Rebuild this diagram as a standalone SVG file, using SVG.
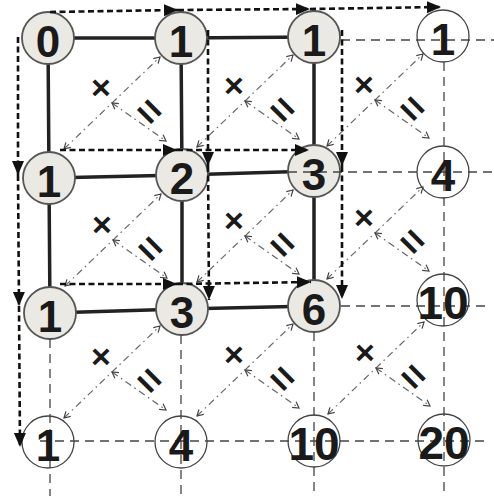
<svg xmlns="http://www.w3.org/2000/svg" width="494" height="496" viewBox="0 0 494 496">
<style>
.solid{stroke:#222;stroke-width:3.5;fill:none;stroke-linecap:butt}
.grid{stroke:#444;stroke-width:1.3;fill:none;stroke-dasharray:9 6}
.path{stroke:#111;stroke-width:2.6;fill:none;stroke-dasharray:6 3.5;marker-end:url(#head)}
.dd{stroke:#666;stroke-width:1.2;fill:none;stroke-dasharray:7 4 1.5 4;marker-start:url(#tick);marker-end:url(#tick)}
.gray{fill:#ebe9e4;stroke:#555;stroke-width:1.8}
.white{fill:none;stroke:#444;stroke-width:1.3}
.num{font-family:"Liberation Sans",Arial,sans-serif;font-weight:bold;font-size:44px;fill:#1a1a1a;text-anchor:middle}
.big{font-size:46px}
.sym{font-family:"Liberation Sans",Arial,sans-serif;font-weight:bold;fill:#1a1a1a;text-anchor:middle}
</style>
<defs>
<marker id="head" markerUnits="userSpaceOnUse" markerWidth="16" markerHeight="14" refX="14" refY="6" orient="auto">
<path d="M0,0 L14,6 L0,12 z" fill="#111"/>
</marker>
<marker id="tick" markerUnits="userSpaceOnUse" markerWidth="9" markerHeight="9" refX="7" refY="4" orient="auto-start-reverse">
<path d="M1,0.5 L7,4 L1,7.5" fill="none" stroke="#444" stroke-width="1.2"/>
</marker>
</defs>
<rect width="494" height="496" fill="#fff"/>

<g id="connectors">
<polyline class="solid" points="48,38 181,38 314,37"/>
<polyline class="solid" points="49,178 182,175 314,171"/>
<polyline class="solid" points="50,313 182,309 314,306"/>
<polyline class="solid" points="48,38 49,178 50,313"/>
<polyline class="solid" points="181,38 182,175 182,309"/>
<polyline class="solid" points="314,37 314,171 314,306"/>
</g>

<g id="node-0-0"><circle class="gray" cx="48" cy="38" r="26"/></g>
<g id="node-0-1"><circle class="gray" cx="181" cy="38" r="26"/></g>
<g id="node-0-2"><circle class="gray" cx="314" cy="37" r="26"/></g>
<g id="node-1-0"><circle class="gray" cx="49" cy="178" r="26"/></g>
<g id="node-1-1"><circle class="gray" cx="182" cy="175" r="26"/></g>
<g id="node-1-2"><circle class="gray" cx="314" cy="171" r="26"/></g>
<g id="node-2-0"><circle class="gray" cx="50" cy="313" r="26"/></g>
<g id="node-2-1"><circle class="gray" cx="182" cy="309" r="26"/></g>
<g id="node-2-2"><circle class="gray" cx="314" cy="306" r="26"/></g>

<g id="grid-lines">
<line class="grid" x1="341" y1="40" x2="494" y2="40"/>
<line class="grid" x1="288" y1="172" x2="494" y2="172"/>
<line class="grid" x1="341" y1="306" x2="486" y2="306"/>
<line class="grid" x1="40" y1="441" x2="486" y2="441"/>
<line class="grid" x1="50" y1="339" x2="50" y2="496"/>
<line class="grid" x1="181" y1="335" x2="181" y2="496"/>
<line class="grid" x1="314" y1="332" x2="314" y2="496"/>
<line class="grid" x1="444" y1="62" x2="444" y2="494"/>
</g>

<g id="node-0-3"><circle class="white" cx="443" cy="36" r="26"/></g>
<g id="node-1-3"><circle class="white" cx="443" cy="172" r="26"/></g>
<g id="node-2-3"><circle class="white" cx="443" cy="300" r="26"/></g>
<g id="node-3-0"><circle class="white" cx="48" cy="442" r="26"/></g>
<g id="node-3-1"><circle class="white" cx="181" cy="442" r="26"/></g>
<g id="node-3-2"><circle class="white" cx="314" cy="441" r="26"/></g>
<g id="node-3-3"><circle class="white" cx="444" cy="440" r="26"/></g>

<g id="diagonals">
<line class="dd" x1="64" y1="149" x2="160" y2="57"/><line class="dd" x1="112" y1="103" x2="166" y2="141"/>
<line class="dd" x1="197" y1="147" x2="293" y2="55"/><line class="dd" x1="245" y1="101" x2="299" y2="139"/>
<line class="dd" x1="327" y1="146" x2="423" y2="54"/><line class="dd" x1="375" y1="100" x2="429" y2="138"/>
<line class="dd" x1="65" y1="286" x2="161" y2="194"/><line class="dd" x1="113" y1="240" x2="167" y2="278"/>
<line class="dd" x1="197" y1="282" x2="293" y2="190"/><line class="dd" x1="245" y1="236" x2="299" y2="274"/>
<line class="dd" x1="327" y1="279" x2="423" y2="187"/><line class="dd" x1="375" y1="233" x2="429" y2="271"/>
<line class="dd" x1="64" y1="418" x2="160" y2="326"/><line class="dd" x1="112" y1="372" x2="166" y2="410"/>
<line class="dd" x1="197" y1="416" x2="293" y2="324"/><line class="dd" x1="245" y1="370" x2="299" y2="408"/>
<line class="dd" x1="328" y1="414" x2="424" y2="322"/><line class="dd" x1="376" y1="368" x2="430" y2="406"/>
</g>

<g id="paths">
<line class="path" x1="50" y1="12" x2="178" y2="10"/>
<line class="path" x1="178" y1="10" x2="310" y2="9"/>
<line class="path" x1="310" y1="9" x2="441" y2="7"/>
<line class="path" x1="18" y1="37" x2="18" y2="175"/>
<line class="path" x1="18" y1="175" x2="19" y2="306"/>
<line class="path" x1="19" y1="306" x2="20" y2="447"/>
<line class="path" x1="60" y1="150" x2="177" y2="150"/>
<line class="path" x1="177" y1="150" x2="309" y2="150"/>
<line class="path" x1="60" y1="284" x2="177" y2="284"/>
<line class="path" x1="177" y1="284" x2="311" y2="282"/>
<line class="path" x1="208" y1="30" x2="208" y2="166"/>
<line class="path" x1="208" y1="166" x2="209" y2="300"/>
<line class="path" x1="342" y1="30" x2="342" y2="166"/>
<line class="path" x1="342" y1="166" x2="342" y2="299"/>
</g>

<g id="labels">
<text class="num" x="48" y="57">0</text>
<text class="num" x="181" y="57">1</text>
<text class="num" x="314" y="56">1</text>
<text class="num" x="443" y="55">1</text>
<text class="num" x="49" y="197">1</text>
<text class="num" x="182" y="194">2</text>
<text class="num" x="314" y="190">3</text>
<text class="num" x="443" y="191">4</text>
<text class="num" x="50" y="332">1</text>
<text class="num" x="182" y="328">3</text>
<text class="num" x="314" y="325">6</text>
<text class="num big" x="443" y="319">10</text>
<text class="num" x="48" y="461">1</text>
<text class="num" x="181" y="461">4</text>
<text class="num big" x="314" y="460">10</text>
<text class="num big" x="444" y="459">20</text>
</g>

<g id="operators">
<text class="sym" font-size="34" x="101" y="99">×</text>
<text class="sym" font-size="34" x="234" y="97">×</text>
<text class="sym" font-size="34" x="364" y="96">×</text>
<text class="sym" font-size="34" x="102" y="236">×</text>
<text class="sym" font-size="34" x="234" y="232">×</text>
<text class="sym" font-size="34" x="364" y="229">×</text>
<text class="sym" font-size="34" x="101" y="368">×</text>
<text class="sym" font-size="34" x="234" y="366">×</text>
<text class="sym" font-size="34" x="365" y="364">×</text>
<text class="sym" font-size="40" transform="rotate(45 150 111)" x="150" y="125">=</text>
<text class="sym" font-size="40" transform="rotate(45 283 109)" x="283" y="123">=</text>
<text class="sym" font-size="40" transform="rotate(45 413 108)" x="413" y="122">=</text>
<text class="sym" font-size="40" transform="rotate(45 151 248)" x="151" y="262">=</text>
<text class="sym" font-size="40" transform="rotate(45 283 244)" x="283" y="258">=</text>
<text class="sym" font-size="40" transform="rotate(45 413 241)" x="413" y="255">=</text>
<text class="sym" font-size="40" transform="rotate(45 150 380)" x="150" y="394">=</text>
<text class="sym" font-size="40" transform="rotate(45 283 378)" x="283" y="392">=</text>
<text class="sym" font-size="40" transform="rotate(45 414 376)" x="414" y="390">=</text>
</g>
</svg>
